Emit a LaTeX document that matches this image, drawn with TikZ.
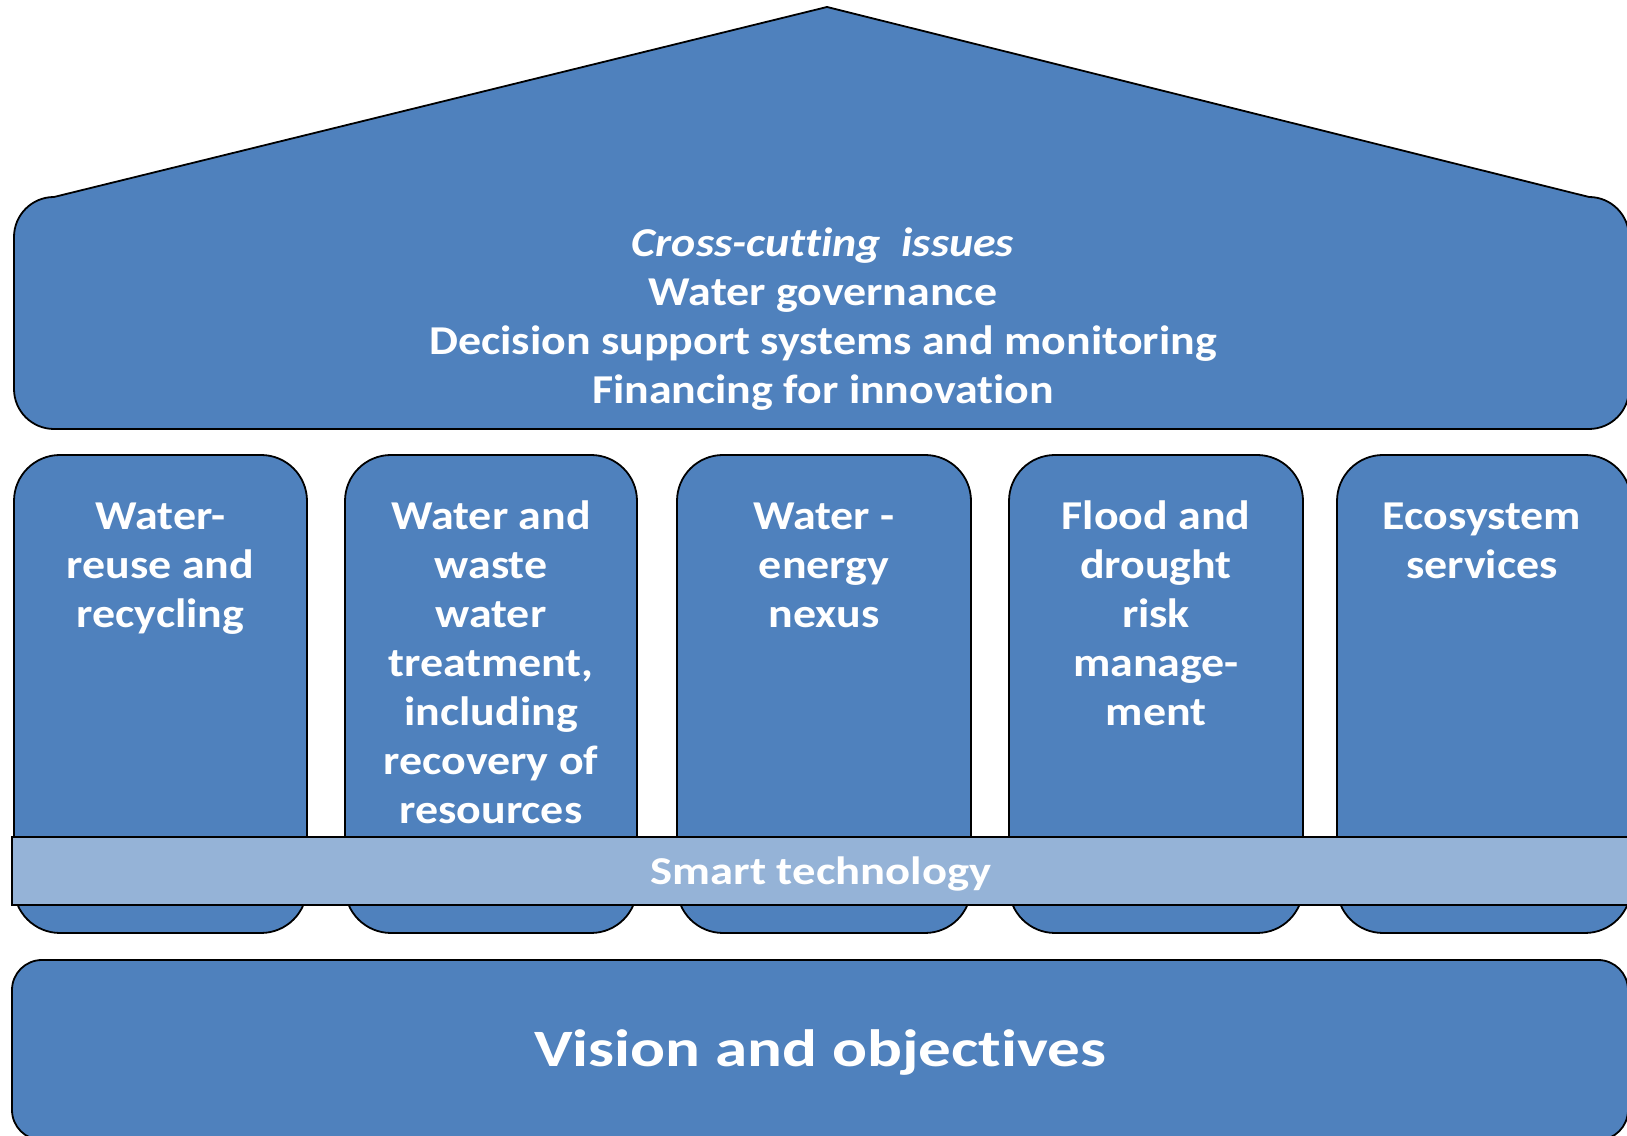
\documentclass[tikz,border=0pt]{standalone}
\usepackage{fontspec}
\setmainfont{Carlito}[Ligatures=NoCommon]
\newfontfamily\colfont{Carlito}[FakeStretch=1.12,Ligatures=NoCommon]
\newfontfamily\smartfont{Carlito}[FakeStretch=1.18,Ligatures=NoCommon]
\newfontfamily\visionfont{Carlito}[FakeStretch=1.24,Ligatures=NoCommon]
\definecolor{mainblue}{HTML}{4F81BD}
\definecolor{lightblue}{HTML}{95B3D7}
\begin{document}
\begin{tikzpicture}[x=1pt,y=1pt,
  blk/.style={fill=mainblue,draw=black,line width=1.8pt},
  bandstyle/.style={fill=lightblue,draw=black,line width=1.8pt},
  lbl/.style={text=white,align=center,inner sep=0pt,anchor=base,font=\colfont\fontsize{41}{49}\selectfont\bfseries},
]
\useasboundingbox (0,0) rectangle (1627,1135);
\clip (0,0) rectangle (1627,1135);
% roof
\draw[blk] (54,938) -- (827,1128) -- (1589,938) arc[start angle=90,end angle=0,radius=40]
  -- (1629,746) arc[start angle=0,end angle=-90,radius=40]
  -- (54,706) arc[start angle=270,end angle=180,radius=40]
  -- (14,898) arc[start angle=180,end angle=90,radius=40] -- cycle;
% columns
\foreach \a/\b in {14/307,345/637,677/971,1009/1303,1337/1631}{
  \draw[blk,rounded corners=46pt] (\a,202) rectangle (\b,680);
}
% band
\draw[bandstyle] (12,230) rectangle (1645,298);
% base
\draw[blk,rounded corners=30pt] (12,-5) rectangle (1628,175);
% texts (anchor base = baseline of last line)
\node[lbl] (roof) at (823,731) {\textit{Cross-cutting\ \ issues}\\Water governance\\Decision support systems and monitoring\\Financing for innovation};
\node[lbl] (p1) at (160.5,507) {Water-\\reuse and\\recycling};
\node[lbl] (p2) at (491,311) {Water and\\waste\\water\\treatment,\\including\\recovery of\\resources};
\node[lbl] (p3) at (824,507) {Water -\\energy\\nexus};
\node[lbl] (p4) at (1156,409) {Flood and\\drought\\risk\\manage-\\ment};
\node[lbl] (p5) at (1482,556) {Ecosystem\\services};
\node[lbl,font=\smartfont\fontsize{39.5}{46}\selectfont\bfseries] (smart) at (821,250) {Smart technology};
\node[lbl,font=\visionfont\fontsize{52.5}{62}\selectfont\bfseries] (vision) at (820,69) {Vision and objectives};
\end{tikzpicture}
\end{document}
